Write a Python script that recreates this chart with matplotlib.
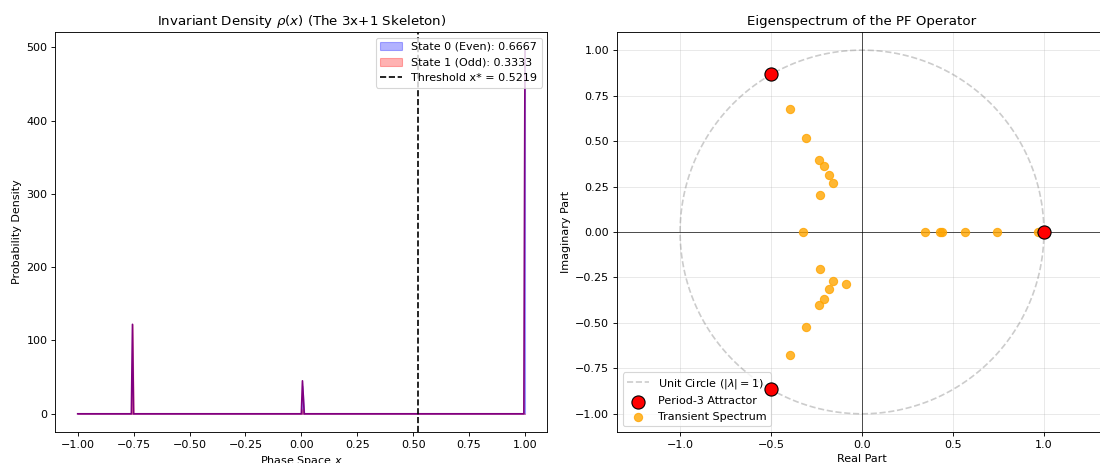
import numpy as np
import matplotlib
matplotlib.use("Agg")
import matplotlib.pyplot as plt

# invariant density (knots of the curve)
x_knots = [-1.0, -0.76, -0.755, -0.75, 0.0, 0.005, 0.013, 0.995, 1.0]
rho_even = [0, 0, 0, 0, 0, 38, 0, 0, 496]
rho_odd = [0, 0, 122, 0, 0, 7, 0, 0, 0]
w_even = 0.6667
w_odd = 0.3333
x_star = 0.5219

# eigenvalues of the PF operator
attractor_re = [1.0, -0.5, -0.5]
attractor_im = [0.0, 0.866, -0.866]
transient_re = [-0.394, -0.306, -0.236, -0.21, -0.183, -0.161, -0.232, -0.326,
                -0.232, -0.161, -0.087, -0.183, -0.21, -0.236, -0.306, -0.394,
                0.348, 0.427, 0.44, 0.568, 0.741, 0.969]
transient_im = [0.674, 0.518, 0.398, 0.365, 0.311, 0.271, 0.203, 0.0,
                -0.206, -0.272, -0.287, -0.313, -0.368, -0.40, -0.521, -0.676,
                0.0, 0.0, 0.0, 0.0, 0.0, 0.0]

DPI = 80
fig = plt.figure(figsize=(1100 / DPI, 463 / DPI), dpi=DPI)
ax1 = fig.add_axes([0.0503, 0.067, 0.4473, 0.864])
ax2 = fig.add_axes([0.5609, 0.067, 0.4455, 0.864])

# left: density
x = np.array(x_knots)
r0 = np.array(rho_even)
r1 = np.array(rho_odd)
ax1.fill_between(x, r0, color="blue", alpha=0.3,
                 label=f"State 0 (Even): {w_even:.4f}")
ax1.fill_between(x, r1, color="red", alpha=0.3,
                 label=f"State 1 (Odd): {w_odd:.4f}")
ax1.plot(x, r0 + r1, color="purple", lw=1.5)
ax1.axvline(x_star, color="black", ls="--", lw=1.5,
            label=f"Threshold x* = {x_star:.4f}")
ax1.set_title(r"Invariant Density $\rho(x)$ (The 3x+1 Skeleton)")
ax1.set_xlabel(r"Phase Space $x$")
ax1.set_ylabel("Probability Density")
ax1.legend(loc="upper right")

# right: spectrum
t = np.linspace(0, 2 * np.pi, 400)
ax2.plot(np.cos(t), np.sin(t), color="gray", ls="--", alpha=0.4,
         label=r"Unit Circle ($|\lambda|=1$)")
ax2.axhline(0, color="black", lw=0.6)
ax2.axvline(0, color="black", lw=0.6)
ax2.scatter(attractor_re, attractor_im, s=140, color="red", edgecolors="black",
            zorder=10, label="Period-3 Attractor")
ax2.scatter(transient_re, transient_im, s=55, color="orange", alpha=0.8,
            zorder=4, label="Transient Spectrum")
ax2.set_xlim(-1.347, 1.347)
ax2.set_ylim(-1.1, 1.1)
ax2.grid(True, alpha=0.3)
ax2.set_title("Eigenspectrum of the PF Operator")
ax2.set_xlabel("Real Part")
ax2.set_ylabel("Imaginary Part")
ax2.legend(loc="lower left")

fig.savefig("out.png", dpi=DPI)
